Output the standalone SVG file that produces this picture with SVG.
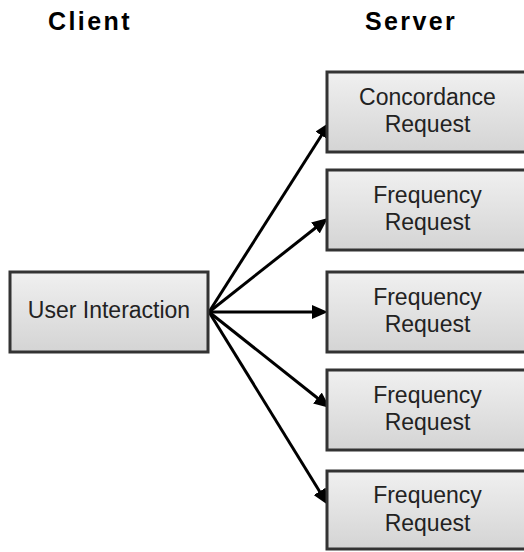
<svg xmlns="http://www.w3.org/2000/svg" width="524" height="552" viewBox="0 0 524 552">
  <defs>
    <linearGradient id="boxFill" x1="0" y1="0" x2="0" y2="1">
      <stop offset="0" stop-color="#f0f0f0"/>
      <stop offset="1" stop-color="#d4d4d4"/>
    </linearGradient>
    <marker id="arrowHead" markerWidth="16" markerHeight="14" refX="8" refY="7" orient="auto" markerUnits="userSpaceOnUse">
      <path d="M0,0 L16,7 L0,14 z" fill="#000"/>
    </marker>
  </defs>
  <style>
    .box { fill: url(#boxFill); stroke: #333; stroke-width: 3; }
    .label { font-family: "Liberation Sans", Arial, sans-serif; font-size: 23px; fill: #222; text-anchor: middle; }
    .title { font-family: "Liberation Sans", Arial, sans-serif; font-size: 25px; font-weight: bold; fill: #000; text-anchor: middle; letter-spacing: 2.4px; }
    .conn { stroke: #000; stroke-width: 3; fill: none; marker-end: url(#arrowHead); }
  </style>

  <rect width="524" height="552" fill="#fff"/>

  <!-- column headings -->
  <text class="title" x="90" y="30">Client</text>
  <text class="title" x="411" y="30">Server</text>

  <!-- connectors -->
  <g id="connectors">
    <line class="conn" x1="209" y1="312" x2="325.7" y2="128.7"/>
    <line class="conn" x1="209" y1="312" x2="321.7" y2="223"/>
    <line class="conn" x1="209" y1="312" x2="320" y2="312"/>
    <line class="conn" x1="209" y1="312" x2="323.7" y2="403"/>
    <line class="conn" x1="209" y1="312" x2="323.8" y2="498.2"/>
  </g>

  <g id="user-interaction">
    <rect class="box" x="10" y="272" width="198" height="80"/>
    <text class="label" x="109" y="318">User Interaction</text>
  </g>

  <g id="concordance-request">
    <rect class="box" x="327" y="72" width="202" height="80"/>
    <text class="label" x="427.5" y="105">Concordance</text>
    <text class="label" x="427.5" y="132">Request</text>
  </g>

  <g id="frequency-request-1">
    <rect class="box" x="327" y="170" width="202" height="80"/>
    <text class="label" x="427.5" y="203">Frequency</text>
    <text class="label" x="427.5" y="230">Request</text>
  </g>

  <g id="frequency-request-2">
    <rect class="box" x="327" y="272" width="202" height="80"/>
    <text class="label" x="427.5" y="305">Frequency</text>
    <text class="label" x="427.5" y="332">Request</text>
  </g>

  <g id="frequency-request-3">
    <rect class="box" x="327" y="370" width="202" height="80"/>
    <text class="label" x="427.5" y="403">Frequency</text>
    <text class="label" x="427.5" y="430">Request</text>
  </g>

  <g id="frequency-request-4">
    <rect class="box" x="327" y="471" width="202" height="78"/>
    <text class="label" x="427.5" y="503">Frequency</text>
    <text class="label" x="427.5" y="531">Request</text>
  </g>
</svg>
